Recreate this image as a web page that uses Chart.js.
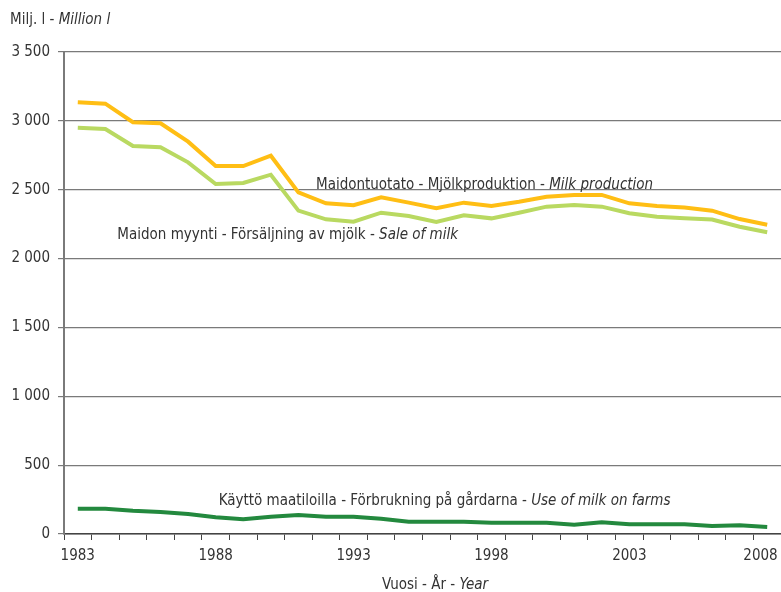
<!DOCTYPE html>
<html>
<head>
<meta charset="utf-8">
<script src="https://cdn.jsdelivr.net/npm/chart.js@4"></script>
<style>
  html, body { margin: 0; padding: 0; background: #fff; }
  #wrap { width: 781px; height: 592px; position: relative; }
</style>
</head>
<body>
<div id="wrap"><canvas id="chart"></canvas></div>
<script>
// vuodet 1983-2008
const years = [];
for (let y = 1983; y <= 2008; y++) years.push(String(y));

// milj. litraa, luettu kuvasta
const production = [3135, 3125, 2990, 2982, 2849, 2672, 2672, 2747, 2481, 2401, 2387, 2445, 2406,
  2365, 2406, 2382, 2413, 2449, 2462, 2462, 2401, 2382, 2370, 2348, 2287, 2246];
const sales = [2950, 2941, 2817, 2808, 2699, 2541, 2549, 2609, 2348, 2285, 2268, 2333, 2309,
  2266, 2314, 2292, 2333, 2377, 2389, 2377, 2329, 2304, 2292, 2283, 2231, 2191];
const farmUse = [184, 184, 169, 160, 145, 121, 107, 126, 138, 126, 126, 111, 89,
  89, 89, 82, 82, 82, 68, 85, 70, 70, 70, 58, 63, 51];

const shownYears = ['1983', '1988', '1993', '1998', '2003', '2008'];

const FONT = "'Liberation Sans Narrow', 'DejaVu Sans Condensed', 'Liberation Sans', sans-serif";
const TXT = '#333333';

// teksti jossa normaali + kursiivi osa
function mixedText(ctx, x, y, normal, italic, size) {
  ctx.font = size + 'px ' + FONT;
  ctx.fillText(normal, x, y);
  const w = ctx.measureText(normal).width;
  ctx.font = 'italic ' + size + 'px ' + FONT;
  ctx.fillText(italic, x + w, y);
}

const labelsPlugin = {
  id: 'labels',
  afterDraw(chart) {
    const ctx = chart.ctx;
    const xs = chart.scales.x;
    const ys = chart.scales.y;
    ctx.save();
    ctx.fillStyle = TXT;
    ctx.textBaseline = 'alphabetic';
    ctx.textAlign = 'left';
    mixedText(ctx, 10, 24, 'Milj. l - ', 'Million l', 15);
    mixedText(ctx, xs.getPixelForValue(9) - 10, ys.getPixelForValue(2505), 'Maidontuotato - Mjölkproduktion - ', 'Milk production', 15);
    mixedText(ctx, xs.getPixelForValue(1) + 12, ys.getPixelForValue(2140), 'Maidon myynti - Försäljning av mjölk - ', 'Sale of milk', 15);
    mixedText(ctx, xs.getPixelForValue(5) + 3, ys.getPixelForValue(210), 'Käyttö maatiloilla - Förbrukning på gårdarna - ', 'Use of milk on farms', 15);
    mixedText(ctx, 382, 589, 'Vuosi - År - ', 'Year', 15);
    ctx.restore();
  }
};

function ds(label, data, color) {
  return {
    label: label,
    data: data,
    borderColor: color,
    backgroundColor: color,
    borderWidth: 4,
    pointRadius: 0,
    tension: 0,
    fill: false
  };
}

new Chart(document.getElementById('chart'), {
  type: 'line',
  data: {
    labels: years,
    datasets: [
      ds('Maidontuotanto', production, '#FFBE14'),
      ds('Maidon myynti', sales, '#B9D961'),
      ds('Käyttö maatiloilla', farmUse, '#23893E')
    ]
  },
  options: {
    responsive: true,
    maintainAspectRatio: false,
    animation: false,
    layout: { padding: { top: 52, right: 0, left: 0, bottom: 0 } },
    plugins: {
      legend: { display: false },
      tooltip: { enabled: false }
    },
    scales: {
      x: {
        type: 'category',
        offset: true,
        grid: {
          offset: true,
          drawOnChartArea: false,
          drawTicks: true,
          tickLength: 6,
          color: '#444'
        },
        border: { color: '#444', width: 1.5 },
        ticks: {
          autoSkip: false,
          maxRotation: 0,
          padding: 7,
          color: TXT,
          font: { family: FONT, size: 15 },
          callback: function(v, i, all) {
            const l = this.getLabelForValue(v);
            if (!shownYears.includes(l)) return '';
            // viimeinen vähän vasemmalle ettei leikkaudu
            return i === all.length - 1 ? l + '\u2002\u2002' : l;
          }
        },
        afterFit(s) {
          s.height = 58;
          s.paddingRight = 0;
          s.paddingLeft = 0;
        }
      },
      y: {
        min: 0,
        max: 3500,
        grid: {
          color: '#7a7a7a',
          lineWidth: 1.2,
          tickLength: 6
        },
        border: { color: '#7a7a7a', width: 2 },
        ticks: {
          stepSize: 500,
          padding: 8,
          color: TXT,
          font: { family: FONT, size: 15 },
          callback: v => String(v).replace(/\B(?=(\d{3})+(?!\d))/g, ' ')
        },
        afterFit(s) {
          s.width = 64;
          s.paddingTop = 0;
          s.paddingBottom = 0;
        }
      }
    }
  },
  plugins: [labelsPlugin]
});
</script>
</body>
</html>
